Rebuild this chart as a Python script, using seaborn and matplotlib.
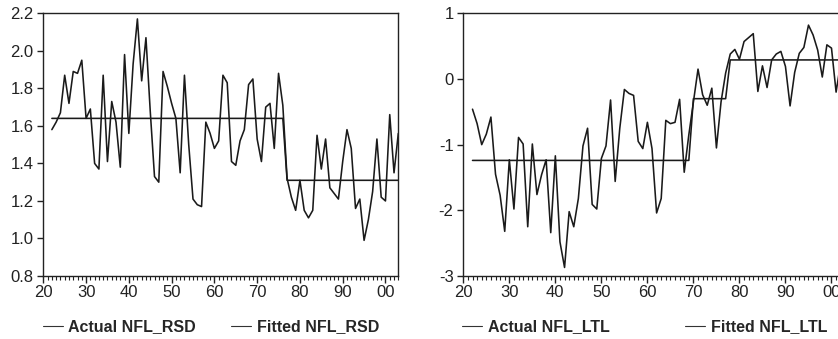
import matplotlib
matplotlib.use("Agg")
import matplotlib.pyplot as plt
from matplotlib.ticker import MultipleLocator, FuncFormatter
import numpy as np
import pandas as pd
import seaborn as sns

years = list(range(1922, 2004))

actual_rsd = [1.58, 1.62, 1.67, 1.87, 1.72, 1.89, 1.88, 1.95, 1.64, 1.69,
              1.40, 1.37, 1.87, 1.41, 1.73, 1.62, 1.38, 1.98, 1.56, 1.93,
              2.17, 1.84, 2.07, 1.68, 1.33, 1.30, 1.89, 1.81, 1.72, 1.64,
              1.35, 1.87, 1.50, 1.21, 1.18, 1.17, 1.62, 1.56, 1.48, 1.52,
              1.87, 1.83, 1.41, 1.39, 1.52, 1.58, 1.82, 1.85, 1.53, 1.41,
              1.70, 1.72, 1.48, 1.88, 1.71, 1.32, 1.22, 1.15, 1.31, 1.15,
              1.11, 1.15, 1.55, 1.37, 1.53, 1.27, 1.24, 1.21, 1.41, 1.58,
              1.48, 1.16, 1.21, 0.99, 1.10, 1.25, 1.53, 1.22, 1.20, 1.66,
              1.35, 1.56]
fitted_rsd = [1.64] * 55 + [1.31] * 27

actual_ltl = [-0.46, -0.68, -1.00, -0.84, -0.58, -1.45, -1.77, -2.32, -1.23, -1.98,
              -0.89, -0.99, -2.25, -0.99, -1.76, -1.46, -1.23, -2.34, -1.17, -2.48,
              -2.87, -2.02, -2.25, -1.82, -1.02, -0.75, -1.91, -1.98, -1.21, -1.02,
              -0.32, -1.56, -0.75, -0.16, -0.22, -0.25, -0.95, -1.06, -0.66, -1.06,
              -2.04, -1.82, -0.63, -0.68, -0.66, -0.31, -1.42, -0.85, -0.35, 0.15,
              -0.24, -0.40, -0.14, -1.05, -0.35, 0.09, 0.38, 0.45, 0.30, 0.57,
              0.63, 0.69, -0.19, 0.20, -0.13, 0.29, 0.38, 0.42, 0.19, -0.41,
              0.10, 0.39, 0.48, 0.82, 0.67, 0.44, 0.03, 0.52, 0.47, -0.20,
              0.25, 0.10]
fitted_ltl = [-1.24] * 48 + [-0.30] * 8 + [0.29] * 26

sns.set_style("ticks")
plt.rcParams['font.family'] = ['Liberation Sans', 'DejaVu Sans']
plt.rcParams['font.size'] = 11

fig = plt.figure(figsize=(8.38, 3.39), dpi=100)
ax1 = fig.add_axes([43.3 / 838, 63 / 339, 355 / 838, 262.7 / 339])
ax2 = fig.add_axes([463.3 / 838, 63 / 339, 382 / 838, 262.7 / 339])


def draw(ax, actual, fitted, name, ylim, ystep, yfmt, colspace):
    df = pd.DataFrame({'Year': years, 'Actual': actual, 'Fitted': fitted})
    sns.lineplot(data=df, x='Year', y='Actual', ax=ax, color='#1a1a1a', lw=1.15,
                 label='Actual ' + name)
    sns.lineplot(data=df, x='Year', y='Fitted', ax=ax, color='#1a1a1a', lw=1.15,
                 label='Fitted ' + name)
    ax.set_xlim(1920, 2003)
    ax.set_ylim(*ylim)
    ax.set_xlabel('')
    ax.set_ylabel('')
    ax.xaxis.set_major_locator(MultipleLocator(10))
    ax.xaxis.set_minor_locator(MultipleLocator(1))
    ax.xaxis.set_major_formatter(FuncFormatter(lambda v, p: '%02d' % (int(round(v)) % 100)))
    ax.yaxis.set_major_locator(MultipleLocator(ystep))
    ax.yaxis.set_major_formatter(FuncFormatter(lambda v, p: yfmt % v))
    ax.tick_params(axis='x', which='major', direction='out', length=5, width=1,
                   labelsize=12, pad=1.5, colors='#222222')
    ax.tick_params(axis='x', which='minor', direction='out', length=3, width=0.8,
                   colors='#222222')
    ax.tick_params(axis='y', which='major', direction='out', length=4, width=1,
                   labelsize=12, pad=3, colors='#222222')
    for sp in ax.spines.values():
        sp.set_color('#222222')
        sp.set_linewidth(1)
    leg = ax.legend(loc='upper left', bbox_to_anchor=(-0.02, -0.14), ncol=2,
                    frameon=False, handlelength=1.25, handletextpad=0.35,
                    columnspacing=colspace, borderaxespad=0,
                    prop={'weight': 'bold', 'size': 11.5})
    for h in leg.get_lines():
        h.set_linewidth(0.8)
        h.set_color('#333333')


draw(ax1, actual_rsd, fitted_rsd, 'NFL_RSD', (0.8, 2.2), 0.2, '%.1f', 2.2)
draw(ax2, actual_ltl, fitted_ltl, 'NFL_LTL', (-3, 1), 1, '%d', 4.75)

fig.savefig('out.png', dpi=100)
